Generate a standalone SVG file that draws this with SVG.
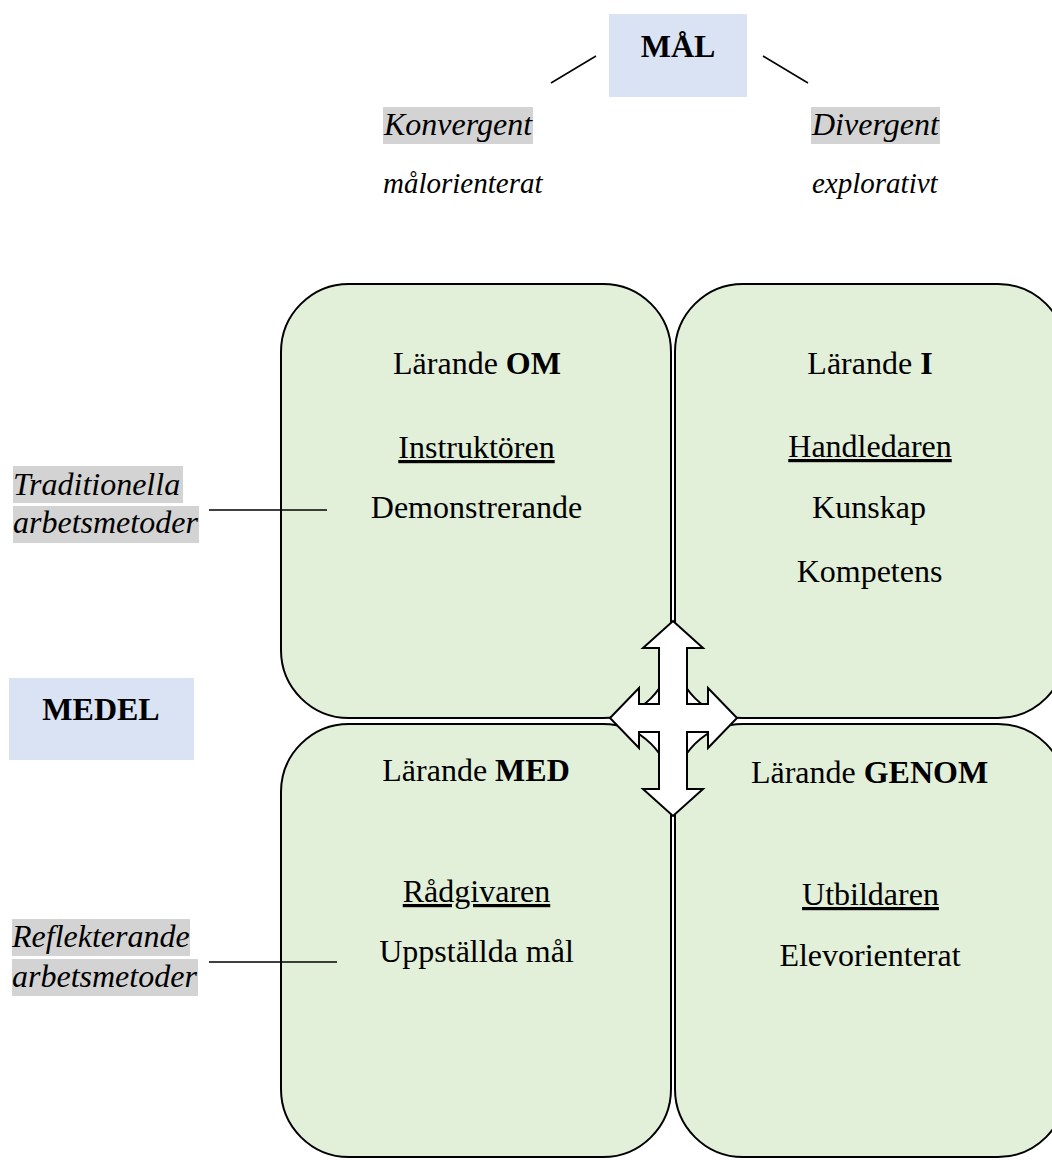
<svg xmlns="http://www.w3.org/2000/svg" width="1052" height="1160" viewBox="0 0 1052 1160">
<style>
  text { font-family: "Liberation Serif", "Times New Roman", serif; fill: #000; }
  .t { font-size: 32px; text-anchor: middle; }
  .b { font-weight: bold; }
  .i { font-style: italic; }
  .u { text-decoration: underline; }
  .sub { font-size: 29px; font-style: italic; }
  .quad { fill: #e2efd9; stroke: #000; stroke-width: 2; }
  .blue { fill: #dae3f3; }
  .hl { fill: #d3d3d3; }
  .ln { stroke: #000; stroke-width: 1.5; fill: none; }
</style>
<rect width="1052" height="1160" fill="#fff"/>

<g id="mal">
  <rect class="blue" x="609" y="14" width="138" height="83"/>
  <text class="t b" x="678" y="57">MÅL</text>
</g>

<g id="konvergent">
  <rect class="hl" x="383" y="107" width="150" height="37"/>
  <text class="i" font-size="32" x="384" y="135">Konvergent</text>
  <text class="sub" x="383" y="193">målorienterat</text>
</g>

<g id="divergent">
  <rect class="hl" x="811" y="107" width="129" height="37"/>
  <text class="i" font-size="32" x="812" y="135">Divergent</text>
  <text class="sub" x="812" y="193">explorativt</text>
</g>

<g id="traditionella">
  <rect class="hl" x="13" y="466" width="170" height="37"/>
  <rect class="hl" x="13" y="506" width="186" height="37"/>
  <text class="i" font-size="32" x="13" y="495">Traditionella</text>
  <text class="i" font-size="32" x="13" y="533">arbetsmetoder</text>
</g>

<g id="reflekterande">
  <rect class="hl" x="12" y="919" width="178" height="37"/>
  <rect class="hl" x="12" y="959" width="186" height="37"/>
  <text class="i" font-size="32" x="12" y="947">Reflekterande</text>
  <text class="i" font-size="32" x="12" y="987">arbetsmetoder</text>
</g>

<g id="medel">
  <rect class="blue" x="9" y="678" width="185" height="82"/>
  <text class="t b" x="101" y="720">MEDEL</text>
</g>

<g id="larande-om">
  <rect class="quad" x="281" y="284" width="390" height="434" rx="68" ry="68"/>
  <text class="t" x="477" y="374">Lärande <tspan class="b">OM</tspan></text>
  <text class="t u" x="476.5" y="458">Instruktören</text>
  <text class="t" x="476.5" y="518">Demonstrerande</text>
</g>

<g id="larande-i">
  <rect class="quad" x="675" y="284" width="391" height="434" rx="68" ry="68"/>
  <text class="t" x="870" y="374">Lärande <tspan class="b">I</tspan></text>
  <text class="t u" x="870" y="457">Handledaren</text>
  <text class="t" x="869" y="518">Kunskap</text>
  <text class="t" x="869.5" y="582">Kompetens</text>
</g>

<g id="larande-med">
  <rect class="quad" x="281" y="724" width="390" height="433" rx="68" ry="68"/>
  <text class="t" x="476" y="781">Lärande <tspan class="b">MED</tspan></text>
  <text class="t u" x="476.5" y="902">Rådgivaren</text>
  <text class="t" x="476.5" y="962">Uppställda mål</text>
</g>

<g id="larande-genom">
  <rect class="quad" x="675" y="724" width="391" height="433" rx="68" ry="68"/>
  <text class="t" x="869.5" y="783">Lärande <tspan class="b">GENOM</tspan></text>
  <text class="t u" x="870.5" y="905">Utbildaren</text>
  <text class="t" x="870" y="966">Elevorienterat</text>
</g>

<g id="connectors">
  <line class="ln" x1="551" y1="83" x2="596" y2="56"/>
  <line class="ln" x1="763" y1="56" x2="808" y2="83"/>
  <line class="ln" x1="209" y1="510" x2="327" y2="510"/>
  <line class="ln" x1="209" y1="962" x2="337" y2="962"/>
  <polygon fill="#fff" stroke="#000" stroke-width="2" stroke-linejoin="miter"
    points="673,621 703,648 687,648 687,704 708,704 708,688 737,718 708,748 708,732 687,732 687,789 703,789 673,816 643,789 659,789 659,732 639,732 639,748 610,718 639,688 639,704 659,704 659,648 643,648"/>
</g>
</svg>
